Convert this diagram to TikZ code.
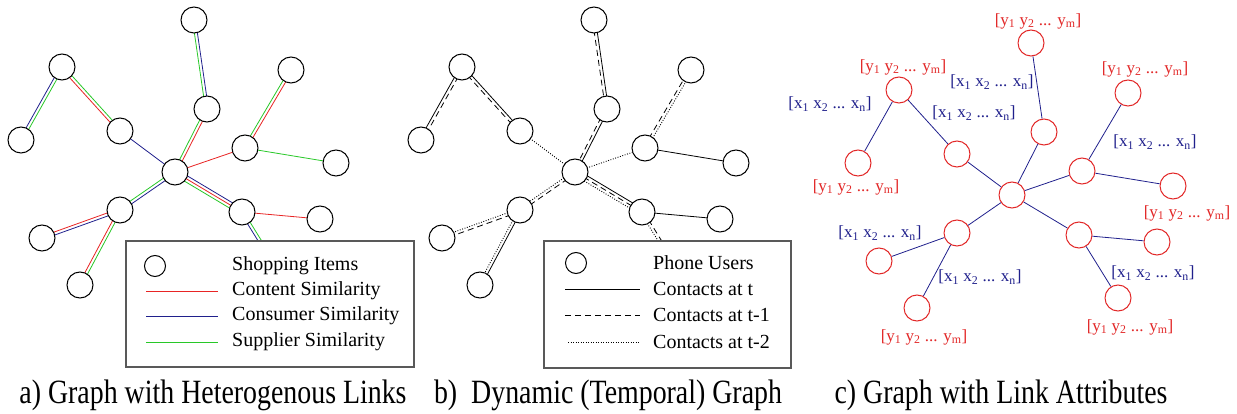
\documentclass[tikz,border=0pt]{standalone}
\usepackage{fontspec}
\setmainfont{Liberation Serif}
\usetikzlibrary{calc,backgrounds}

\definecolor{linkred}{RGB}{232,36,36}
\definecolor{linkblue}{RGB}{32,32,140}
\definecolor{linkgreen}{RGB}{40,200,40}
\definecolor{attrred}{RGB}{226,40,40}

\tikzset{
  item/.style={circle, draw, line width=1pt, fill=white, minimum size=26pt, inner sep=0pt},
  attritem/.style={item, draw=attrred},
  keyitem/.style={item, minimum size=21pt},
  content/.style={draw=linkred, line width=0.8pt},
  consumer/.style={draw=linkblue, line width=0.8pt},
  supplier/.style={draw=linkgreen, line width=0.8pt},
  now/.style={draw=black, line width=0.8pt},
  prev/.style={draw=black, line width=0.8pt, dash pattern=on 6pt off 4pt},
  prevprev/.style={draw=black, line width=0.9pt, dash pattern=on 0.9pt off 1.6pt},
  attrlink/.style={draw=linkblue, line width=0.8pt},
  legendbox/.style={draw=black!65, line width=1.2pt, fill=white},
  legendtext/.style={anchor=west, font=\fontsize{20}{22}\selectfont, inner sep=0pt},
  xattr/.style={text=linkblue, font=\fontsize{17}{19}\selectfont, inner sep=0pt},
  yattr/.style={text=attrred, font=\fontsize{17}{19}\selectfont, inner sep=0pt},
  caption/.style={anchor=base, font=\fontsize{34}{36}\selectfont, inner sep=0pt}
}

% 两个节点之间平移一段距离的连线
\newcommand{\linkat}[4]{\draw[#1] ($(#2)!#4!90:(#3)$) -- ($(#3)!#4!-90:(#2)$);}
\newcommand{\xvec}{[x\textsubscript{1} x\textsubscript{2} ... x\textsubscript{n}]}
\newcommand{\yvec}{[y\textsubscript{1} y\textsubscript{2} ... y\textsubscript{m}]}

\begin{document}
\begin{tikzpicture}[x=1pt, y=-1pt]

\useasboundingbox (0,0) rectangle (1237,414);

% 三张图的节点, 位置相同, 只是平移
\foreach \p/\dx/\dy/\s in {a/0/0/item, b/400/0/item, c/837/23/attritem}
  \foreach \n/\x/\y in {0/175/172, 1/194/20, 2/207/109, 3/62/67, 4/21/140, 5/120/131,
                        6/245/148, 7/291/70, 8/336/163, 9/120/210, 10/42/238,
                        11/80/285, 12/242/212, 13/320/219, 14/281/275}
    \node[\s] (\p\n) at (\x+\dx,\y+\dy) {};

% a) 异构连线
\begin{scope}[on background layer]
\linkat{supplier}{a1}{a2}{-1.5pt} \linkat{consumer}{a1}{a2}{1.5pt}
\linkat{supplier}{a2}{a0}{-1.5pt} \linkat{content}{a2}{a0}{1.5pt}
\linkat{consumer}{a3}{a4}{-1.5pt} \linkat{supplier}{a3}{a4}{1.5pt}
\linkat{supplier}{a3}{a5}{1.5pt} \linkat{content}{a3}{a5}{-1.5pt}
\linkat{consumer}{a5}{a0}{0pt}
\linkat{content}{a0}{a6}{0pt}
\linkat{supplier}{a6}{a7}{1.5pt} \linkat{content}{a6}{a7}{-1.5pt}
\linkat{supplier}{a6}{a8}{0pt}
\linkat{consumer}{a0}{a9}{1.5pt} \linkat{supplier}{a0}{a9}{-1.5pt}
\linkat{content}{a9}{a10}{-1.5pt} \linkat{consumer}{a9}{a10}{1.5pt}
\linkat{content}{a9}{a11}{-1.5pt} \linkat{supplier}{a9}{a11}{1.5pt}
\linkat{consumer}{a0}{a12}{3pt} \linkat{content}{a0}{a12}{0pt} \linkat{supplier}{a0}{a12}{-3pt}
\linkat{content}{a12}{a13}{0pt}
\linkat{consumer}{a12}{a14}{-1.5pt} \linkat{supplier}{a12}{a14}{1.5pt}

% b) 不同时刻的连线
\linkat{now}{b1}{b2}{1.5pt} \linkat{prev}{b1}{b2}{-1.5pt}
\linkat{now}{b2}{b0}{1.5pt} \linkat{prev}{b2}{b0}{-1.5pt}
\linkat{prev}{b3}{b4}{1.5pt} \linkat{now}{b3}{b4}{-1.5pt}
\linkat{now}{b3}{b5}{1.5pt} \linkat{prev}{b3}{b5}{-1.5pt}
\linkat{prevprev}{b5}{b0}{0pt}
\linkat{prevprev}{b0}{b6}{0pt}
\linkat{prev}{b6}{b7}{1.5pt} \linkat{prevprev}{b6}{b7}{-1.5pt}
\linkat{now}{b6}{b8}{0pt}
\linkat{prev}{b0}{b9}{1.5pt} \linkat{prevprev}{b0}{b9}{-1.5pt}
\linkat{prev}{b9}{b10}{1.5pt} \linkat{prevprev}{b9}{b10}{-1.5pt}
\linkat{now}{b9}{b11}{1.5pt} \linkat{prevprev}{b9}{b11}{-1.5pt}
\linkat{now}{b0}{b12}{3pt} \linkat{prev}{b0}{b12}{0pt} \linkat{prevprev}{b0}{b12}{-3pt}
\linkat{now}{b12}{b13}{0pt}
\linkat{prev}{b12}{b14}{1.5pt} \linkat{prevprev}{b12}{b14}{-1.5pt}
\end{scope}

% c) 带属性的连线
\foreach \u/\v in {1/2, 2/0, 3/4, 3/5, 5/0, 0/6, 6/7, 6/8, 0/9, 9/10, 9/11, 0/12, 12/13, 12/14}
  \draw[attrlink] (c\u) -- (c\v);

% 节点属性
\node[yattr] (ytop) at (1038,21) {\yvec};
\node[yattr] (yleft) at (903,67) {\yvec};
\node[yattr] (yright) at (1145,69) {\yvec};
\node[yattr] (yfar) at (856,187) {\yvec};
\node[yattr] (yeast) at (1187,213) {\yvec};
\node[yattr] (ylow) at (924,337) {\yvec};
\node[yattr] (yside) at (1130,327) {\yvec};

% 连线属性
\node[xattr] (xtop) at (992,82) {\xvec};
\node[xattr] (xleft) at (830,104) {\xvec};
\node[xattr] (xinner) at (974,113) {\xvec};
\node[xattr] (xright) at (1155,142) {\xvec};
\node[xattr] (xwest) at (880,233) {\xvec};
\node[xattr] (xlow) at (980,277) {\xvec};
\node[xattr] (xside) at (1153,273) {\xvec};

% 图例 a
\draw[legendbox] (126,241) rectangle (414,367);
\node[keyitem] (keya) at (155,266) {};
\draw[content] (146,291) -- (218,291);
\draw[consumer] (146,316) -- (218,316);
\draw[supplier] (146,342) -- (218,342);
\node[legendtext] (keya1) at (232,266) {Shopping Items};
\node[legendtext] (keya2) at (232,291) {Content Similarity};
\node[legendtext] (keya3) at (232,316) {Consumer Similarity};
\node[legendtext] (keya4) at (232,342) {Supplier Similarity};

% 图例 b
\draw[legendbox] (544,241) rectangle (791,368);
\node[keyitem] (keyb) at (576,263) {};
\draw[now] (565,289) -- (640,289);
\draw[prev] (565,315) -- (640,315);
\draw[prevprev] (568,342) -- (640,342);
\node[legendtext] (keyb1) at (653,263) {Phone Users};
\node[legendtext] (keyb2) at (653,289) {Contacts at t};
\node[legendtext] (keyb3) at (653,315) {Contacts at t-1};
\node[legendtext] (keyb4) at (653,342) {Contacts at t-2};

% 图题
\node[caption] (capa) at (213,403) {\scalebox{0.82}[1]{a) Graph with Heterogenous Links}};
\node[caption] (capb) at (608,403) {\scalebox{0.82}[1]{b)~ Dynamic (Temporal) Graph}};
\node[caption] (capc) at (1001,403) {\scalebox{0.82}[1]{c) Graph with Link Attributes}};

\end{tikzpicture}
\end{document}
